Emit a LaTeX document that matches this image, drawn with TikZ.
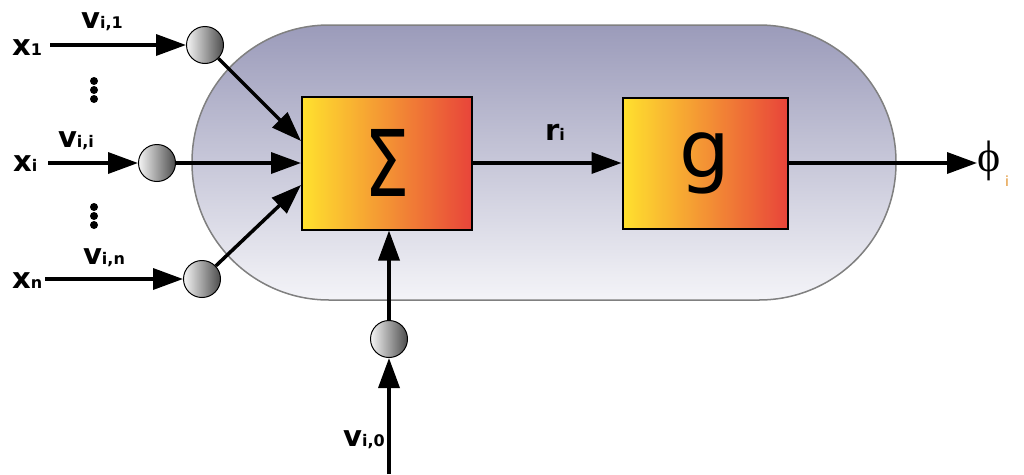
\documentclass[tikz,border=0pt]{standalone}
\usepackage{fontspec}
\setmainfont{DejaVu Sans}
\newfontfamily\phifont{Liberation Serif}
\usetikzlibrary{arrows.meta,calc}
\definecolor{capTop}{HTML}{9B9BBA}
\definecolor{capBot}{HTML}{F4F4F8}
\definecolor{boxL}{HTML}{FFE12E}
\definecolor{boxM}{HTML}{F8A33A}
\definecolor{boxR}{HTML}{E8443A}
\definecolor{subOr}{HTML}{E0902A}
\newcommand\mylab[2]{{\bfseries\fontsize{29}{29}\selectfont #1}{\bfseries\fontsize{16}{16}\selectfont #2}}
\tikzset{
  arr/.style={line width=3.5pt,-{Triangle[length=30pt,width=21pt]}},
  wcirc/.style={circle,minimum size=37pt,inner sep=0pt,draw=black,line width=1pt,left color=white!92!gray,right color=black!70},
  fbox/.style={rectangle,draw=black,line width=2pt,left color=boxL,middle color=boxM,right color=boxR,inner sep=0pt},
  lab/.style={inner sep=1pt,anchor=base}
}
\begin{document}
\begin{tikzpicture}[x=1pt,y=-1pt]
\useasboundingbox (0,0) rectangle (1024,474);
% capsule
\node[draw=black!50,line width=1.5pt,rounded corners=137pt,top color=capTop,bottom color=capBot,minimum width=704pt,minimum height=275pt,inner sep=0pt] (cap) at (544,162.5) {};
% boxes
\node[fbox,minimum width=170pt,minimum height=133pt] (sig) at (387,163) {\fontsize{92}{92}\selectfont\scalebox{0.78}[1]{Σ}};
\node[fbox,minimum width=165pt,minimum height=131pt] (g) at (705,163) {\raisebox{6pt}{\fontsize{80}{80}\selectfont g}};
% weight circles
\node[wcirc] (c1) at (205,45) {};
\node[wcirc] (ci) at (157,163) {};
\node[wcirc] (cn) at (202,279) {};
\node[wcirc] (c0) at (389,339) {};
% inputs
\node[lab,anchor=base west] (x1) at (11,55) {\mylab{x}{1}};
\node[lab,anchor=base west] (xi) at (12,171) {\mylab{x}{i}};
\node[lab,anchor=base west] (xn) at (11,288) {\mylab{x}{n}};
\coordinate (x1e) at (50,45);
\coordinate (xie) at (48,163);
\coordinate (xne) at (45,279);
\draw[arr] (x1e) -- (c1);
\draw[arr] (xie) -- (ci);
\draw[arr] (xne) -- (cn);
% weight labels
\node[lab] (v1) at (102,28) {\mylab{v}{i,1}};
\node[lab] (vi) at (76,147) {\mylab{v}{i,i}};
\node[lab] (vn) at (104,264) {\mylab{v}{i,n}};
\node[lab] (v0) at (364,446) {\mylab{v}{i,0}};
% dots
\foreach \yy in {81,90,99,207,216,225} \fill (94,\yy) circle (4pt);
% into sum
\coordinate (t1) at ($(sig.west)+(0,-22)$);
\coordinate (tn) at ($(sig.west)+(0,22)$);
\draw[arr] (c1) -- (t1);
\draw[arr] (ci) -- (sig.west);
\draw[arr] (cn) -- (tn);
% bias
\coordinate (b0) at (389,474);
\draw[arr] (b0) -- (c0);
\draw[arr] (c0) -- (sig.south -| c0);
% sum to g
\draw[arr] (sig.east) -- (g.west);
\node[lab] (r) at (555,140) {\mylab{r}{i}};
% output
\node[inner sep=0pt,anchor=west] (phi) at (977,161) {\phifont\fontsize{44}{44}\selectfont ϕ};
\node[inner sep=0pt] (phisub) at (1007,181) {\color{subOr}\fontsize{14}{14}\selectfont i};
\draw[arr] (g.east) -- (g.east -| phi.west);
\end{tikzpicture}
\end{document}
